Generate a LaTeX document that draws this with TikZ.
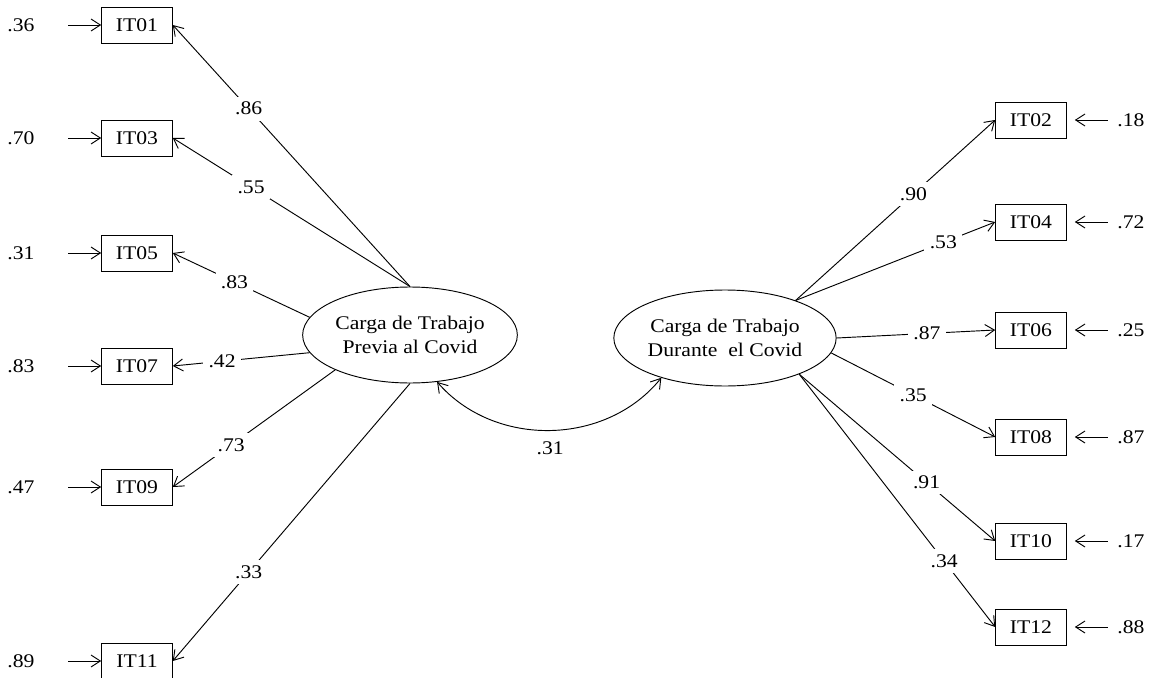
\documentclass[tikz,border=0pt]{standalone}
\usepackage{fontspec}
\setmainfont{Liberation Serif}[FakeStretch=1.12]
\usepackage{tikz}
\usetikzlibrary{arrows.meta,shapes.geometric}

\begin{document}
\begin{tikzpicture}[x=0.75pt,y=-0.75pt,line width=0.7pt,
    font=\fontsize{14.5}{17.5}\selectfont,
    item/.style={draw,rectangle,minimum width=53pt,minimum height=27pt,inner sep=0pt},
    factor/.style={draw,ellipse,minimum width=160pt,minimum height=72pt,align=center,inner sep=1pt},
    coef/.style={fill=white,inner sep=4pt},
    resid/.style={inner sep=0pt},
    load/.style={-{Straight Barb[length=7pt,width=9pt]}},
    cov/.style={{Straight Barb[length=7pt,width=9pt]}-{Straight Barb[length=7pt,width=9pt]}}]
    \useasboundingbox (0,0) rectangle (1154,678);

    \node[factor] (prev) at (410,335) {Carga de Trabajo\\Previa al Covid};
    \node[factor] (dur) at (725,338) {Carga de Trabajo\\Durante\ \ el Covid};

    \node[item] (it01) at (137,25) {IT01};
    \node[item] (it03) at (137,138) {IT03};
    \node[item] (it05) at (137,253) {IT05};
    \node[item] (it07) at (137,366) {IT07};
    \node[item] (it09) at (137,487) {IT09};
    \node[item] (it11) at (137,661) {IT11};

    \node[item] (it02) at (1031,120) {IT02};
    \node[item] (it04) at (1031,222) {IT04};
    \node[item] (it06) at (1031,330) {IT06};
    \node[item] (it08) at (1031,437) {IT08};
    \node[item] (it10) at (1031,541) {IT10};
    \node[item] (it12) at (1031,627) {IT12};

    \node[resid] (e01) at (21,25) {.36};
    \node[resid] (e03) at (21,138) {.70};
    \node[resid] (e05) at (21,253) {.31};
    \node[resid] (e07) at (21,366) {.83};
    \node[resid] (e09) at (21,487) {.47};
    \node[resid] (e11) at (21,661) {.89};

    \node[resid] (e02) at (1131,120) {.18};
    \node[resid] (e04) at (1131,222) {.72};
    \node[resid] (e06) at (1131,330) {.25};
    \node[resid] (e08) at (1131,437) {.87};
    \node[resid] (e10) at (1131,541) {.17};
    \node[resid] (e12) at (1131,627) {.88};

    % errors
    \draw[load,shorten <=25pt] (e01) -- (it01);
    \draw[load,shorten <=25pt] (e03) -- (it03);
    \draw[load,shorten <=25pt] (e05) -- (it05);
    \draw[load,shorten <=25pt] (e07) -- (it07);
    \draw[load,shorten <=25pt] (e09) -- (it09);
    \draw[load,shorten <=25pt] (e11) -- (it11);
    \draw[load,shorten <=7pt,shorten >=6pt] (e02) -- (it02);
    \draw[load,shorten <=7pt,shorten >=6pt] (e04) -- (it04);
    \draw[load,shorten <=7pt,shorten >=6pt] (e06) -- (it06);
    \draw[load,shorten <=7pt,shorten >=6pt] (e08) -- (it08);
    \draw[load,shorten <=7pt,shorten >=6pt] (e10) -- (it10);
    \draw[load,shorten <=7pt,shorten >=6pt] (e12) -- (it12);

    % loadings
    \draw[load] (prev.north) -- node[coef,pos=.68]{.86} (it01.east);
    \draw[load] (prev.north) -- node[coef,pos=.67]{.55} (it03.east);
    \draw[load] (prev.170) -- node[coef,pos=.55]{.83} (it05.east);
    \draw[load] (prev.190) -- node[coef,pos=.64]{.42} (it07.east);
    \draw[load] (prev.205) -- node[coef,pos=.64]{.73} (it09.east);
    \draw[load] (prev.south) -- node[coef,pos=.68]{.33} (it11.east);

    \draw[load] (dur.28) -- node[coef,pos=.59]{.90} (it02.west);
    \draw[load] (dur.28) -- node[coef,pos=.74]{.53} (it04.west);
    \draw[load] (dur.east) -- node[coef,pos=.57]{.87} (it06.west);
    \draw[load] (dur.352) -- node[coef,pos=.5]{.35} (it08.west);
    \draw[load] (dur.334) -- node[coef,pos=.65]{.91} (it10.west);
    \draw[load] (dur.334) -- node[coef,pos=.74]{.34} (it12.west);

    \draw[cov] (prev.300) to[bend right=50] node[below=5pt]{.31} (dur.212);
\end{tikzpicture}
\end{document}
